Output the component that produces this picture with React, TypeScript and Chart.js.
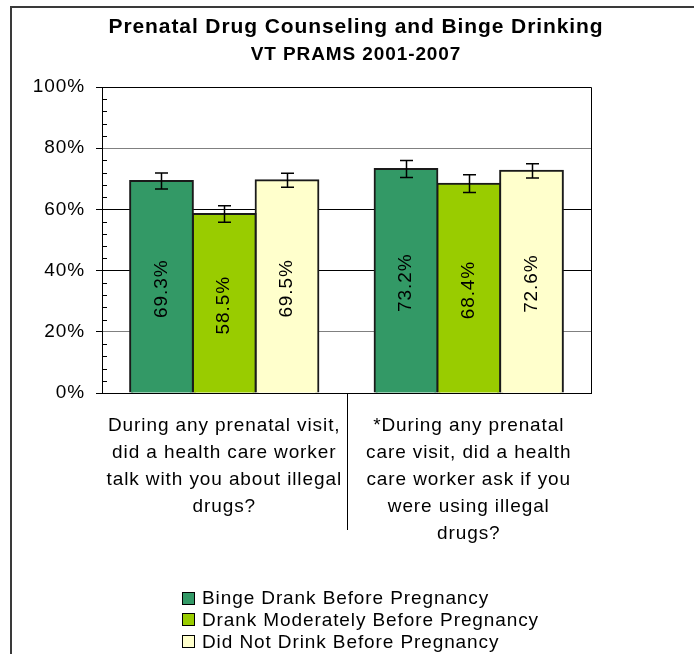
import { useEffect, useRef } from "react";
import { Chart, registerables } from "chart.js";

Chart.register(...registerables);

const FONT = '"Liberation Sans", Arial, Helvetica, sans-serif';
const SPACING = "0.9px";

const chartTitle = "Prenatal Drug Counseling and Binge Drinking";
const chartSubtitle = "VT PRAMS 2001-2007";

const categories = [
	["During any prenatal visit,", "did a health care worker", "talk with you about illegal", "drugs?"],
	["*During any prenatal", "care visit, did a health", "care worker ask if you", "were using illegal", "drugs?"],
];

const seriesNames = [
	"Binge Drank Before Pregnancy",
	"Drank Moderately Before Pregnancy",
	"Did Not Drink Before Pregnancy",
];
const seriesColors = ["#339966", "#99cc00", "#ffffcc"];

const bingeValues = [69.3, 73.2];
const moderateValues = [58.5, 68.4];
const noneValues = [69.5, 72.6];

// half-width of the error bars
const bingeErrors = [2.6, 2.8];
const moderateErrors = [2.7, 2.9];
const noneErrors = [2.3, 2.3];

const yMin = 0;
const yMax = 100;
const yStep = 20;
const yMinorStep = 4;

const decor = {
	id: "decor",
	beforeUpdate(chart: any) {
		chart.ctx.letterSpacing = SPACING;
	},
	beforeDraw(chart: any) {
		chart.ctx.letterSpacing = SPACING;
	},
	afterDatasetsDraw(chart: any) {
		const { ctx, chartArea: a, scales } = chart;
		const x = scales.x;
		const y = scales.y;
		ctx.save();
		ctx.strokeStyle = "#000";
		ctx.lineWidth = 1;

		// plot frame top / right
		ctx.beginPath();
		ctx.moveTo(a.left, Math.round(a.top) + 0.5);
		ctx.lineTo(Math.round(a.right) + 0.5, Math.round(a.top) + 0.5);
		ctx.lineTo(Math.round(a.right) + 0.5, a.bottom);
		ctx.stroke();

		// minor ticks inside
		ctx.beginPath();
		for (let v = yMin + yMinorStep; v < yMax; v += yMinorStep) {
			if (v % yStep === 0) continue;
			const py = Math.round(y.getPixelForValue(v)) + 0.5;
			ctx.moveTo(a.left, py);
			ctx.lineTo(a.left + 5, py);
		}
		ctx.stroke();

		// category separators below the axis
		ctx.beginPath();
		for (let i = 0; i < categories.length - 1; i++) {
			const xm = Math.round((x.getPixelForValue(i) + x.getPixelForValue(i + 1)) / 2) + 0.5;
			ctx.moveTo(xm, a.bottom);
			ctx.lineTo(xm, a.bottom + 137);
		}
		ctx.stroke();

		// error bars + value labels
		chart.data.datasets.forEach((ds: any, di: number) => {
			const meta = chart.getDatasetMeta(di);
			meta.data.forEach((bar: any, i: number) => {
				const v = ds.data[i];
				const e = ds.errors[i];
				const top = y.getPixelForValue(v + e);
				const bot = y.getPixelForValue(v - e);
				const bx = Math.round(bar.x) + 0.5;
				ctx.strokeStyle = "#000";
				ctx.lineWidth = 1.5;
				ctx.beginPath();
				ctx.moveTo(bx, top);
				ctx.lineTo(bx, bot);
				ctx.moveTo(bx - 6.5, top);
				ctx.lineTo(bx + 6.5, top);
				ctx.moveTo(bx - 6.5, bot);
				ctx.lineTo(bx + 6.5, bot);
				ctx.stroke();

				ctx.save();
				ctx.translate(bar.x, (bar.y + bar.base) / 2 + 2);
				ctx.rotate(-Math.PI / 2);
				ctx.fillStyle = "#000";
				ctx.font = `19px ${FONT}`;
				ctx.textAlign = "center";
				ctx.textBaseline = "middle";
				ctx.fillText(v.toFixed(1) + "%", 0, 0);
				ctx.restore();
			});
		});
		ctx.restore();
	},
	afterDraw(chart: any) {
		const { ctx } = chart;
		ctx.save();
		ctx.font = `19px ${FONT}`;
		const maxW = Math.max(...seriesNames.map((s) => ctx.measureText(s).width));
		const startX = Math.round((chart.width - (20 + maxW)) / 2) + 5;
		seriesNames.forEach((name, i) => {
			const cy = chart.height - 56 + i * 21.7;
			ctx.fillStyle = seriesColors[i];
			ctx.fillRect(startX, Math.round(cy - 6.5), 13, 13);
			ctx.strokeStyle = "#000";
			ctx.lineWidth = 1;
			ctx.strokeRect(startX + 0.5, Math.round(cy - 6.5) + 0.5, 12, 12);
			ctx.fillStyle = "#000";
			ctx.textAlign = "left";
			ctx.textBaseline = "middle";
			ctx.fillText(name, startX + 20, cy + 1);
		});
		ctx.restore();
	},
};

export default function App() {
	const ref = useRef<HTMLCanvasElement>(null);

	useEffect(() => {
		const canvas = ref.current;
		if (!canvas) return;

		const makeSet = (i: number, data: number[], errors: number[]) => ({
			label: seriesNames[i],
			data,
			errors,
			backgroundColor: seriesColors[i],
			borderColor: "#1a1a1a",
			borderWidth: 2,
			inflateAmount: 1,
			categoryPercentage: 0.77,
			barPercentage: 1,
		});

		const chart = new Chart(canvas, {
			type: "bar",
			data: {
				labels: categories,
				datasets: [
					makeSet(0, bingeValues, bingeErrors),
					makeSet(1, moderateValues, moderateErrors),
					makeSet(2, noneValues, noneErrors),
				] as any,
			},
			options: {
				animation: false,
				responsive: true,
				maintainAspectRatio: false,
				layout: { padding: { left: 0, right: 0, top: 0, bottom: 100 } },
				plugins: {
					legend: { display: false },
					tooltip: { enabled: false },
					title: {
						display: true,
						text: chartTitle,
						color: "#000",
						font: { family: FONT, size: 21, weight: "bold" },
						padding: { top: 7, bottom: 0 },
					},
					subtitle: {
						display: true,
						text: chartSubtitle,
						color: "#000",
						font: { family: FONT, size: 19, weight: "bold" },
						padding: { top: 3, bottom: 21 },
					},
				},
				scales: {
					x: {
						grid: { display: false, drawTicks: false },
						border: { display: true, color: "#000", width: 1 },
						ticks: {
							color: "#000",
							font: { family: FONT, size: 19, lineHeight: 1.42 },
							padding: 19,
							maxRotation: 0,
							autoSkip: false,
						},
						afterFit: (s: any) => {
							s.height = 161;
						},
					},
					y: {
						min: yMin,
						max: yMax,
						ticks: {
							stepSize: yStep,
							color: "#000",
							font: { family: FONT, size: 19 },
							padding: 11,
							callback: (v: any) => v + "%",
						},
						grid: {
							color: (c: any) =>
								c.tick && (c.tick.value === 20 || c.tick.value === 80) ? "#808080" : "#000",
							tickColor: "#000",
							tickLength: 6,
							lineWidth: 1,
						},
						border: { color: "#000", width: 1 },
						afterFit: (s: any) => {
							s.width = 90;
						},
					},
					// empty right-hand strip, keeps the plot off the right edge
					yRight: {
						type: "linear",
						position: "right",
						grid: { display: false, drawTicks: false },
						border: { display: false },
						ticks: { display: false },
						afterFit: (s: any) => {
							s.width = 109;
						},
					},
				},
			},
			plugins: [decor],
		});

		return () => chart.destroy();
	}, []);

	// outer frame: only its left and top edges fall inside the window
	return (
		<div
			style={{
				position: "fixed",
				left: 10,
				top: 6,
				right: 0,
				bottom: 0,
				borderLeft: "2px solid #3a3a3a",
				borderTop: "2px solid #3a3a3a",
				overflow: "hidden",
				background: "#fff",
			}}
		>
			<div style={{ position: "relative", width: 688, height: 646 }}>
				<canvas ref={ref} />
			</div>
		</div>
	);
}
